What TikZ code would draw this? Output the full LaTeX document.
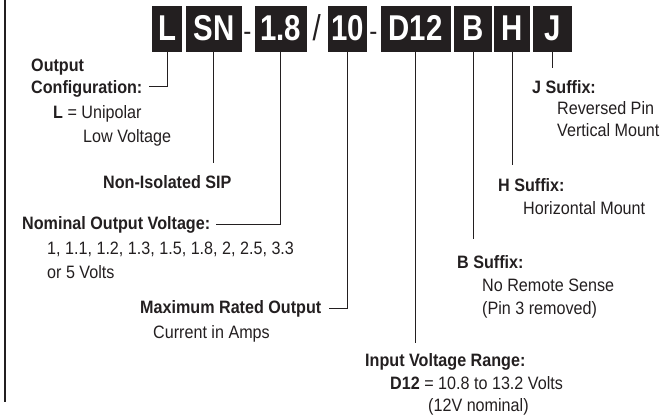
\documentclass[tikz,border=0pt]{standalone}
\usepackage{fontspec}
\setmainfont{Liberation Sans}[FakeStretch=0.9]
\newfontfamily\boxfont{Liberation Sans}[FakeStretch=0.82]
\definecolor{ink}{HTML}{231F20}
\tikzset{
  code/.style={fill=ink, text=white, font=\boxfont\bfseries\fontsize{36}{36}\selectfont,
    minimum height=45.7bp, text height=24bp, text depth=0pt, inner sep=0pt, anchor=center},
  sep/.style={anchor=base, inner sep=0pt, text=ink},
  lbl/.style={anchor=base west, inner sep=0pt, text=ink, font=\fontsize{18}{21}\selectfont},
  blbl/.style={lbl, font=\bfseries\fontsize{18}{21}\selectfont},
  leader/.style={draw=ink, line width=0.9bp},
}
\begin{document}
\begin{tikzpicture}[x=1bp,y=-1bp]
\useasboundingbox (0,0) rectangle (662,419);
% left rule
\coordinate (rt) at (5,0);
\coordinate (rb) at (5,402);
\draw[draw=ink, line width=1.6bp] (rt) -- (rb);
% code boxes
\node[code, minimum width=30.6bp] (bL)   at (167,28.85)   {L};
\node[code, minimum width=55.7bp] (bSN)  at (213.85,28.85) {SN};
\node[code, minimum width=51.7bp] (b18)  at (280.85,28.85) {1.8};
\node[code, minimum width=38.4bp] (b10)  at (347.5,28.85) {10};
\node[code, minimum width=70bp]   (bD12) at (415.7,28.85) {D12};
\node[code, minimum width=37.4bp] (bB)   at (473,28.85)   {B};
\node[code, minimum width=36bp]   (bH)   at (512,28.85)   {H};
\node[code, minimum width=38.7bp] (bJ)   at (552.6,28.85) {J};
% separators
\node[sep, font=\fontsize{27}{27}\selectfont] (d1) at (247.5,40.7) {-};
\node[sep, font=\boxfont\fontsize{36}{36}\selectfont] (s1) at (316.7,40.7) {/};
\node[sep, font=\fontsize{27}{27}\selectfont] (d2) at (373.5,40.7) {-};
% labels
\node[blbl] (tOut) at (31,71) {Output};
\node[blbl] (tCfg) at (31,93) {Configuration:};
\node[lbl] (tUni) at (53,118) {\textbf{L} = Unipolar};
\node[lbl] (tLow) at (83,142) {Low Voltage};
\node[blbl] (tSIP) at (103,188) {Non-Isolated SIP};
\node[blbl] (tNom) at (22,229) {Nominal Output Voltage:};
\node[lbl] (tVals) at (47,254) {1, 1.1, 1.2, 1.3, 1.5, 1.8, 2, 2.5, 3.3};
\node[lbl] (tOr) at (47,278) {or 5 Volts};
\node[blbl] (tMax) at (140,313) {Maximum Rated Output};
\node[lbl] (tCur) at (153,338) {Current in Amps};
\node[blbl] (tIn) at (365,366) {Input Voltage Range:};
\node[lbl] (tD12) at (390,389) {\textbf{D12} = 10.8 to 13.2 Volts};
\node[lbl] (tNomi) at (428,411) {(12V nominal)};
\node[blbl] (tB) at (457,268) {B Suffix:};
\node[lbl] (tB1) at (482,291) {No Remote Sense};
\node[lbl] (tB2) at (482,314) {(Pin 3 removed)};
\node[blbl] (tH) at (498,191) {H Suffix:};
\node[lbl] (tH1) at (523,214) {Horizontal Mount};
\node[blbl] (tJ) at (532,93) {J Suffix:};
\node[lbl] (tJ1) at (557,114) {Reversed Pin};
\node[lbl] (tJ2) at (557,136) {Vertical Mount};
% leader ends
\coordinate (eL) at (149,86);
\coordinate (eSN) at (213.85,163);
\coordinate (e18) at (216,224);
\coordinate (e10) at (329,308);
\coordinate (eD12) at (415.7,343);
\coordinate (eB) at (473,239);
\coordinate (eH) at (512,165);
\coordinate (eJ) at (552.6,68);
% leaders
\draw[leader] (bL.south) |- (eL);
\draw[leader] (bSN.south) -- (eSN);
\draw[leader] (b18.south) |- (e18);
\draw[leader] (b10.south) |- (e10);
\draw[leader] (bD12.south) -- (eD12);
\draw[leader] (bB.south) -- (eB);
\draw[leader] (bH.south) -- (eH);
\draw[leader] (bJ.south) -- (eJ);
\end{tikzpicture}
\end{document}
